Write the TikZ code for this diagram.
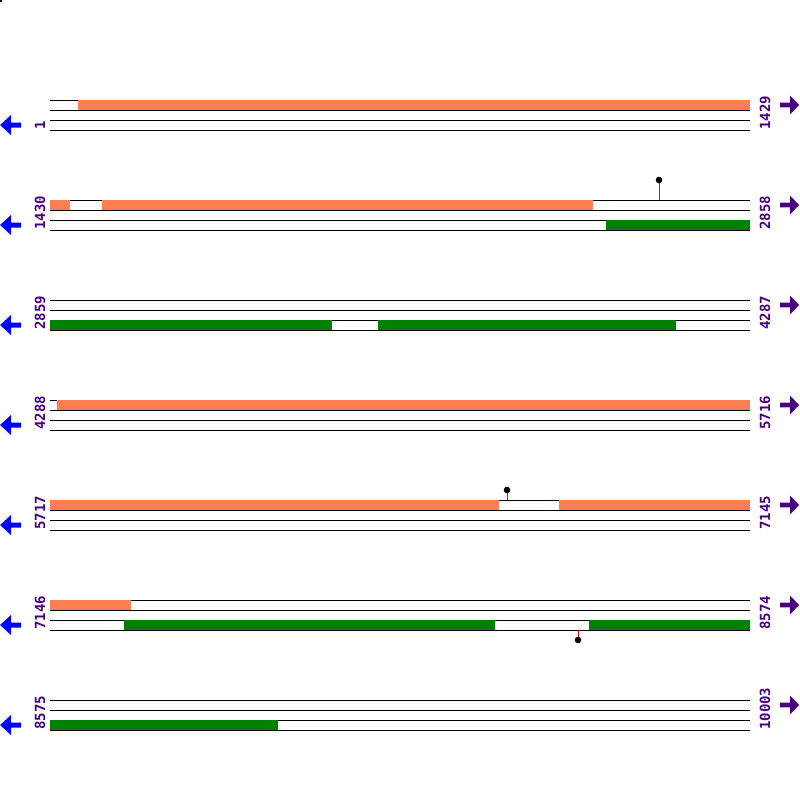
\documentclass[tikz,border=0pt]{standalone}
\usepackage{fontspec}
\newfontfamily\labfont{DejaVu Sans Mono}
\definecolor{barorange}{RGB}{255,127,80}
\definecolor{bargreen}{RGB}{0,128,0}
\definecolor{labpurple}{RGB}{75,0,130}
\definecolor{arrblue}{RGB}{0,0,255}
\tikzset{
  trackline/.style={draw=black, line width=1pt},
  orangebar/.style={fill=barorange, draw=none},
  greenbar/.style={fill=bargreen, draw=none},
  poslabel/.style={rotate=90, anchor=base west, inner sep=0pt, text=labpurple, font=\labfont\bfseries\fontsize{14}{14}\selectfont},
  leftarrow/.style={fill=arrblue, draw=none},
  rightarrow/.style={fill=labpurple, draw=none},
  stem/.style={draw=red, line width=0.8pt},
  pin/.style={fill=black, draw=none}
}
\begin{document}
\begin{tikzpicture}[x=1pt, y=-1pt]
\useasboundingbox (0,0) rectangle (800,800);
\fill (0,0) rectangle (2,2);
% track lines and labels
\foreach \r/\a/\b [count=\i] in {100/1/1429, 200/1430/2858, 300/2859/4287, 400/4288/5716, 500/5717/7145, 600/7146/8574, 700/8575/10003}{
  \foreach \k in {0,10,20,30}{
    \draw[trackline] (50,\r+\k) -- (750,\r+\k);
  }
  \node[poslabel] (L\i) at (45,\r+30) {\a};
  \node[poslabel] (R\i) at (770,\r+30) {\b};
  \fill[leftarrow] (0,\r+25) -- (11,\r+15) -- (11,\r+22.5) -- (21,\r+22.5) -- (21,\r+27.5) -- (11,\r+27.5) -- (11,\r+35) -- cycle;
  \fill[rightarrow] (799,\r+5) -- (790,\r-4.5) -- (790,\r+2.7) -- (780,\r+2.7) -- (780,\r+7.3) -- (790,\r+7.3) -- (790,\r+14.5) -- cycle;
}
% row 1
\fill[orangebar] (78,100) rectangle (750,110);
% row 2
\fill[orangebar] (50,200) rectangle (70,210);
\fill[orangebar] (102,200) rectangle (593,210);
\fill[greenbar] (606,220) rectangle (750,230);
\draw[stem] (659,200) -- (659,180);
\fill[pin] (659,180) circle (3.3);
% row 3
\fill[greenbar] (50,320) rectangle (332,330);
\fill[greenbar] (378,320) rectangle (676,330);
% row 4
\fill[orangebar] (57,400) rectangle (750,410);
% row 5
\fill[orangebar] (50,500) rectangle (499,510);
\fill[orangebar] (559,500) rectangle (750,510);
\draw[stem] (507,500) -- (507,490);
\fill[pin] (507,490) circle (3.3);
% row 6
\fill[orangebar] (50,600) rectangle (131,610);
\fill[greenbar] (124,620) rectangle (495,630);
\fill[greenbar] (589,620) rectangle (750,630);
\draw[stem] (578,630) -- (578,640);
\fill[pin] (578,640) circle (3.3);
% row 7
\fill[greenbar] (50,720) rectangle (278,730);
\end{tikzpicture}
\end{document}
